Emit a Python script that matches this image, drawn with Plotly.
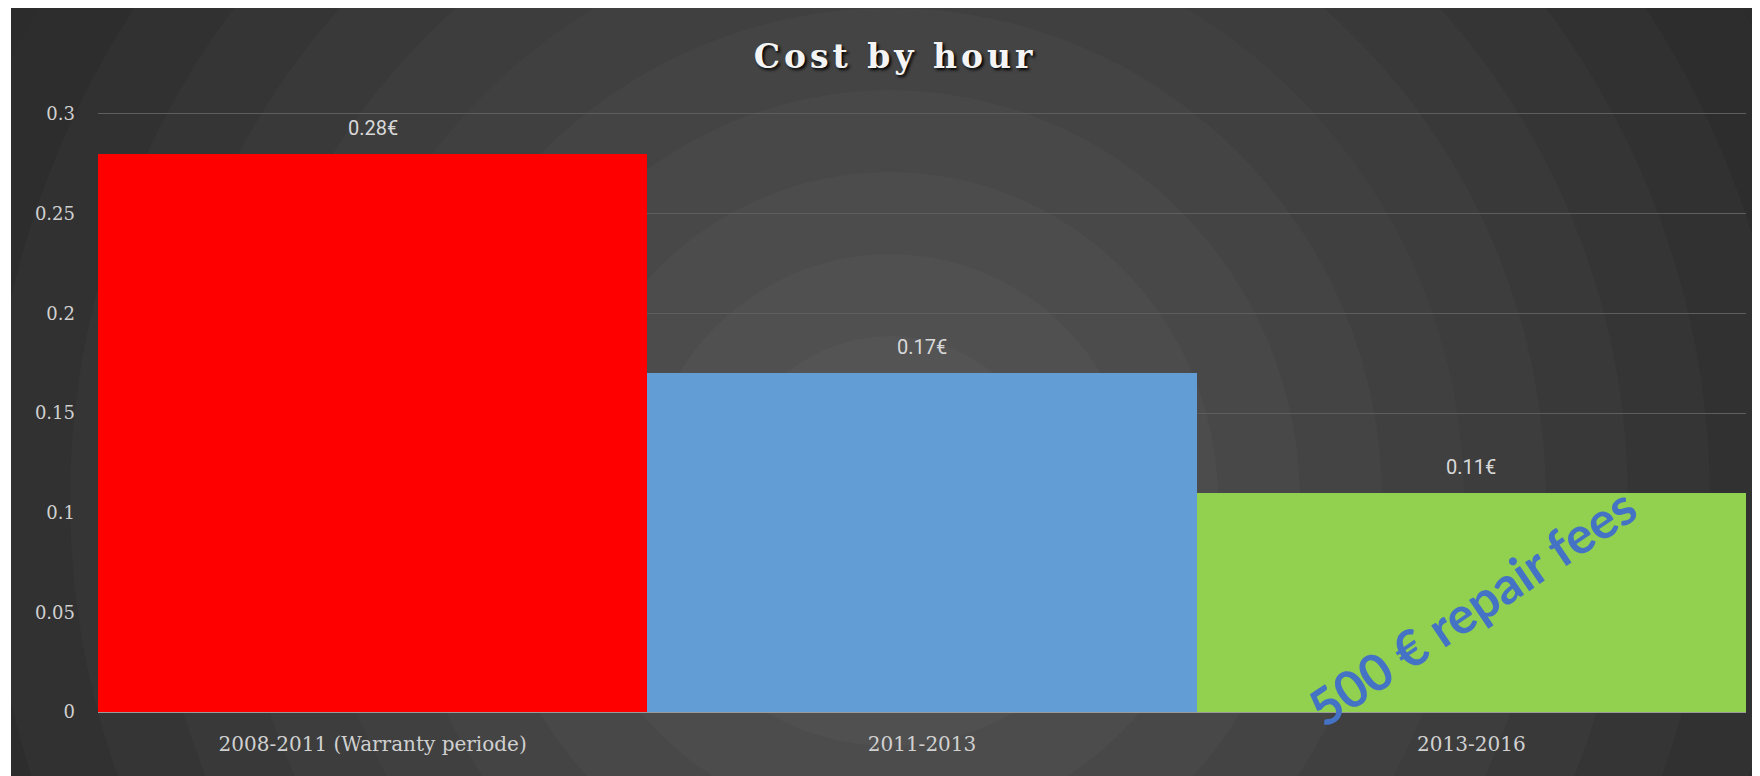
import plotly.graph_objects as go

categories = ["2008-2011 (Warranty periode)", "2011-2013", "2013-2016"]
values = [0.28, 0.17, 0.11]
value_labels = ["0.28€", "0.17€", "0.11€"]
bar_colors = ["#FF0000", "#639DD5", "#92D050"]
note_text = "500 € repair fees"
title_text = "Cost by hour"

# the page body adds an 8px offset; size the figure to fill the rest of the window
OFF = 8
W, H = 1760 - OFF, 776 - OFF
YMAX = 0.3015
L, R, T, B = 98 - OFF, 14, 111 - OFF, 64
pw, ph = W - L - R, H - T - B

def px_x(x):
    # x in reference-window pixels
    return (x - OFF - L) / pw

def px_y(y):
    return (H - B - (y - OFF)) / ph

fig = go.Figure()
fig.add_trace(go.Bar(
    x=categories, y=values,
    marker=dict(color=bar_colors, line=dict(width=0)),
    hoverinfo="skip", showlegend=False,
))

for c, v, t in zip(categories, values, value_labels):
    fig.add_annotation(x=c, y=v, text=t, showarrow=False, yshift=26,
                       font=dict(family="Liberation Sans Narrow, Roboto", size=20, color="#d9d9d9"))

fig.add_annotation(x=categories[2], y=0.053, text=note_text, showarrow=False,
                   textangle=-34,
                   font=dict(family="Lato, Open Sans", size=51, color="#4472C4", weight="bold"))

shapes = []
shapes.append(dict(type="rect", xref="paper", yref="paper", layer="below",
                   x0=px_x(0), x1=px_x(1800), y0=px_y(800), y1=px_y(0),
                   fillcolor="#2c2c2c", line=dict(width=0)))
cx, cy = 890, 500
n = 13
step = 82
for i in range(n, 0, -1):
    r = i * step
    f = min(r / 1000.0, 1.0)
    g = int(round(0x5c - f * (0x5c - 0x2c)))
    col = "#%02x%02x%02x" % (g, g, g)
    shapes.append(dict(type="circle", xref="paper", yref="paper", layer="below",
                       xsizemode="pixel", ysizemode="pixel",
                       xanchor=px_x(cx), yanchor=px_y(cy),
                       x0=-r, x1=r, y0=-r, y1=r,
                       fillcolor=col, line=dict(width=0)))
shapes.append(dict(type="rect", xref="paper", yref="paper", layer="below",
                   x0=px_x(-100), x1=px_x(11), y0=px_y(900), y1=px_y(-100),
                   fillcolor="#ffffff", line=dict(width=0)))
shapes.append(dict(type="rect", xref="paper", yref="paper", layer="below",
                   x0=px_x(-100), x1=px_x(1900), y0=px_y(5), y1=px_y(-100),
                   fillcolor="#ffffff", line=dict(width=0)))

fig.update_layout(
    width=W, height=H,
    margin=dict(l=L, r=R, t=T, b=B, pad=0),
    paper_bgcolor="#ffffff",
    plot_bgcolor="rgba(0,0,0,0)",
    bargap=0,
    shapes=shapes,
    title=dict(text='<span style="letter-spacing:4px">' + title_text + '</span>',
               x=px_x(895), xanchor="center", xref="paper",
               y=1 - (56 - OFF) / H, yanchor="middle",
               font=dict(family="DejaVu Serif", size=33, color="#f4f4f4",
                         weight="bold", shadow="2px 2px 3px #000000")),
    xaxis=dict(showgrid=False, showline=False, zeroline=False,
               tickfont=dict(family="DejaVu Serif", size=20, color="#d0d0d0"),
               ticks="", ticklabelstandoff=18),
    yaxis=dict(range=[0, YMAX], tickvals=[0, 0.05, 0.1, 0.15, 0.2, 0.25, 0.3],
               ticktext=["0", "0.05", "0.1", "0.15", "0.2", "0.25", "0.3"],
               showgrid=True, gridcolor="#5e5e5e", gridwidth=1,
               zeroline=True, zerolinecolor="#9a9a9a", zerolinewidth=2,
               showline=False, ticks="",
               tickfont=dict(family="DejaVu Serif", size=18, color="#d0d0d0"),
               ticklabelstandoff=22),
)

fig.write_html("out.html")
